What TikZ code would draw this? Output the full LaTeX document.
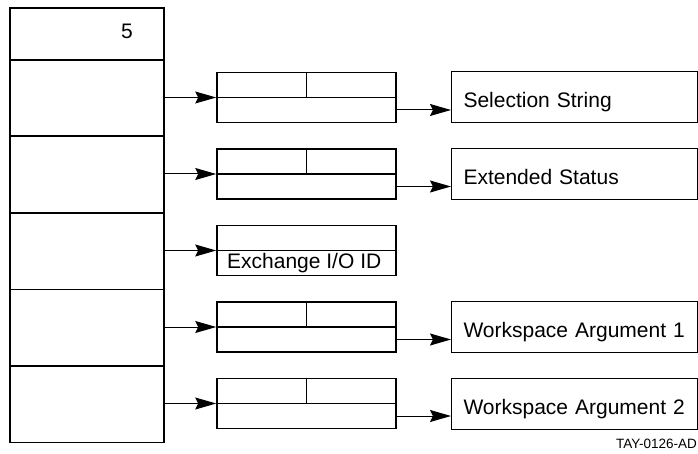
\documentclass[tikz,border=0pt]{standalone}
\usepackage{fontspec}
\setmainfont{Liberation Sans}
\usetikzlibrary{arrows.meta}

\begin{document}
\begin{tikzpicture}[x=1pt, y=-1pt,
    >={Stealth[length=21pt, width=12pt, inset=3pt]},
    cell/.style={draw, line width=1.6pt, inner sep=0pt, anchor=north west,
      minimum width=154pt, minimum height=76.5pt},
    desc/.style={draw, line width=1.6pt, inner sep=0pt,
      minimum width=179pt, minimum height=50pt},
    txt/.style={draw, line width=1pt, anchor=west, align=left,
      text width=222pt, inner xsep=12pt, inner ysep=0pt,
      text height=21pt, text depth=0pt, minimum height=51pt},
    ptr/.style={->, line width=1pt},
    font=\fontsize{21}{24}\selectfont]

    %% Background
    \useasboundingbox (0,0) rectangle (698,454);

    % Argument list
    \node[cell, minimum height=52pt] (c1) at (9,7) {};
    \node[anchor=base, inner sep=0pt] (count) at (127,39) {5};
    \foreach \i/\ypos in {2/59, 3/135.5, 4/212, 5/288.5, 6/365}
    {
    \node[cell] (c\i) at (9,\ypos) {};
    }

    % Descriptors with a target
    \foreach \i/\ypos/\lbl in {2/97.5/Selection String, 3/174/Extended Status,
      5/327/Workspace Argument 1, 6/403.5/Workspace Argument 2}
    {
    \node[desc] (d\i) at (306.5,\ypos) {};
    \draw[line width=1.6pt] (d\i.west) -- (d\i.east) (d\i.north) -- (d\i.center);
    \node[txt] (t\i) at (451,\ypos) {\lbl};
    \draw[ptr] (c\i.east |- d\i.west) -- (d\i.west);
    \draw[ptr] ([yshift=-12.5pt]d\i.east) -- ([yshift=-12.5pt]t\i.west);
    }

    % Exchange descriptor
    \node[desc] (d4) at (306.5,250.5) {};
    \draw[line width=1.6pt] (d4.west) -- (d4.east);
    \node[anchor=base west, inner sep=0pt] (xid) at (227,268) {Exchange I/O ID};
    \draw[ptr] (c4.east |- d4.west) -- (d4.west);

    % Figure tag
    \node[anchor=base east, inner sep=0pt, font=\fontsize{13.5}{16}\selectfont]
      (tag) at (697,448) {TAY-0126-AD};

\end{tikzpicture}
\end{document}
